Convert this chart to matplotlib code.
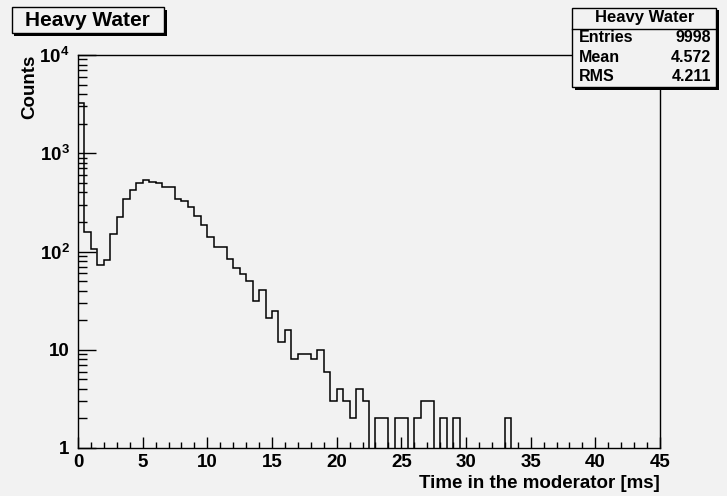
import numpy as np
import matplotlib
matplotlib.use('Agg')
import matplotlib.pyplot as plt
from matplotlib.patches import Rectangle
from matplotlib.lines import Line2D
from matplotlib.ticker import FixedLocator, MultipleLocator, LogLocator, FuncFormatter

plt.rcParams['font.family'] = ['Liberation Sans', 'DejaVu Sans']
plt.rcParams['font.weight'] = 'bold'
plt.rcParams['mathtext.fontset'] = 'custom'
plt.rcParams['mathtext.rm'] = 'Liberation Sans:bold'
plt.rcParams['mathtext.bf'] = 'Liberation Sans:bold'

# histogram: 90 bins of 0.5 ms between 0 and 45 ms
bin_edges = np.linspace(0, 45, 91)
counts = [3250, 158, 105, 73, 82, 149, 222, 339, 425, 497,
          529, 508, 493, 449, 449, 339, 326, 283, 228, 186,
          141, 110, 110, 84, 68, 59, 50, 31, 41, 21,
          25, 12, 16, 8, 9, 9, 8, 10, 6, 3,
          4, 3, 2, 4, 3, 0, 2, 2, 0, 2,
          2, 0, 2, 3, 3, 0, 2, 0, 2, 0,
          0, 0, 0, 0, 0, 0, 2, 0, 0, 0,
          0, 0, 0, 0, 0, 0, 0, 0, 0, 0,
          0, 0, 0, 0, 0, 0, 0, 0, 0, 0]

hist_title = 'Heavy Water'
stat_names = ['Entries', 'Mean', 'RMS']
stat_values = ['9998', '4.572', '4.211']
y_ticks = [1, 10, 100, 1000, 10000]

W, H = 727, 496
bg = '#f2f2f2'
fig = plt.figure(figsize=(W / 100, H / 100), dpi=100, facecolor=bg)

def fx(px):
    return px / W

def fy(py):
    return 1 - py / H

ax = fig.add_axes([fx(78), fy(448), fx(660) - fx(78), fy(55) - fy(448)])
ax.set_facecolor(bg)
ax.stairs(counts, bin_edges, color='black', linewidth=1.1)

ax.set_yscale('log')
ax.set_xlim(0, 45)
ax.set_ylim(1, 1e4)

ax.xaxis.set_major_locator(MultipleLocator(5))
ax.xaxis.set_minor_locator(MultipleLocator(1))
ax.yaxis.set_major_locator(FixedLocator(y_ticks))
ax.yaxis.set_minor_locator(LogLocator(base=10, subs=np.arange(2, 10)))

def ylab(v, pos):
    if v < 5:
        return '1'
    if v < 50:
        return '10'
    return r'$\mathbf{10^{%d}}$' % round(np.log10(v))

ax.yaxis.set_major_formatter(FuncFormatter(ylab))
ax.yaxis.set_minor_formatter(FuncFormatter(lambda v, p: ''))

ax.tick_params(which='both', direction='in', top=False, right=False, color='black')
ax.tick_params(axis='x', which='major', length=8, width=1, pad=4, labelsize=13.5)
ax.tick_params(axis='x', which='minor', length=4, width=1)
ax.tick_params(axis='y', which='major', length=13, width=1, pad=6, labelsize=13.5)
ax.tick_params(axis='y', which='minor', length=6.5, width=1)
for lbl in ax.get_xticklabels() + ax.get_yticklabels():
    lbl.set_fontweight('bold')
for sp in ax.spines.values():
    sp.set_linewidth(1)

ax.set_xlabel('Time in the moderator [ms]', loc='right', fontsize=13.5, fontweight='bold')
ax.xaxis.set_label_coords(1.0, -0.068)
ax.set_ylabel('Counts', loc='top', fontsize=13.5, fontweight='bold')
ax.yaxis.set_label_coords(-0.068, 1.0)

def pave(x0, y0, x1, y1, shadow=2.5):
    s = shadow
    fig.add_artist(Rectangle((fx(x0 + s), fy(y1 + s)), fx(x1) - fx(x0), fy(y0) - fy(y1),
                             transform=fig.transFigure, facecolor='black',
                             edgecolor='none', zorder=5))
    fig.add_artist(Rectangle((fx(x0), fy(y1)), fx(x1) - fx(x0), fy(y0) - fy(y1),
                             transform=fig.transFigure, facecolor=bg,
                             edgecolor='black', linewidth=1, zorder=6))

# title box
pave(12, 7, 164, 33)
fig.text(fx(87), fy(20), hist_title, ha='center', va='center', fontsize=15,
         fontweight='bold', zorder=7)

# stats box
pave(572, 8, 716, 87)
fig.add_artist(Line2D([fx(572), fx(716)], [fy(29), fy(29)], transform=fig.transFigure,
                      color='black', linewidth=1, zorder=7))
fig.text(fx(645), fy(17.5), hist_title, ha='center', va='center', fontsize=12,
         fontweight='bold', zorder=7)
for i, (n, v) in enumerate(zip(stat_names, stat_values)):
    yy = 37.5 + i * 19.6
    fig.text(fx(579), fy(yy), n, ha='left', va='center', fontsize=11.5,
             fontweight='bold', zorder=7)
    fig.text(fx(711), fy(yy), v, ha='right', va='center', fontsize=11.5,
             fontweight='bold', zorder=7)

fig.savefig('out.png', dpi=100, facecolor=bg)
